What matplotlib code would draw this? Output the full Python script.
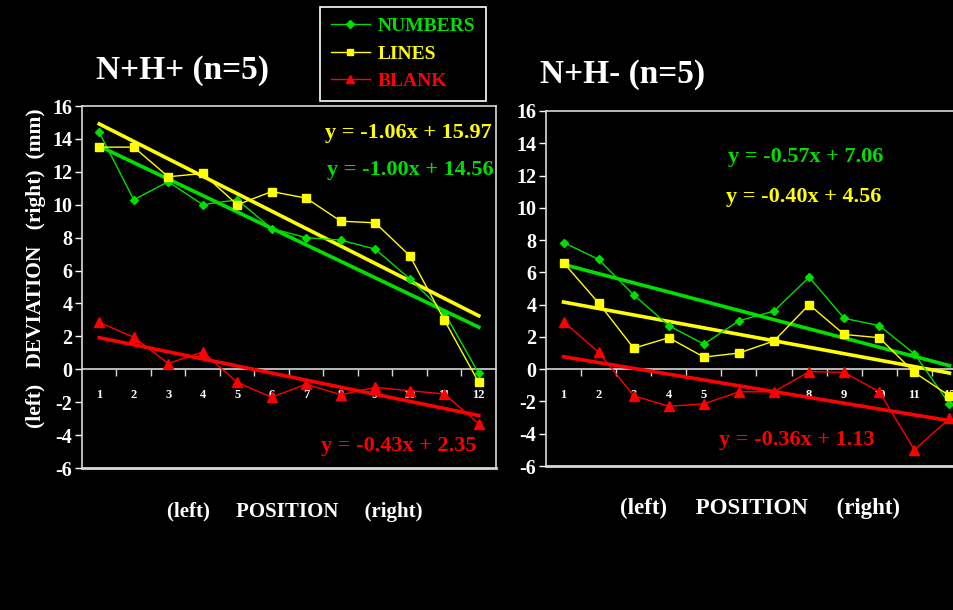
import matplotlib
matplotlib.use("Agg")
import matplotlib.pyplot as plt
import numpy as np

# positions 1..12
positions = np.arange(1, 13)

# N+H+ (n=5)
hp_numbers = [14.4, 10.3, 11.4, 10.0, 10.3, 8.55, 8.0, 7.85, 7.3, 5.5, 3.45, -0.25]
hp_lines = [13.5, 13.5, 11.7, 11.9, 10.0, 10.8, 10.4, 9.0, 8.9, 6.9, 3.0, -0.8]
hp_blank = [2.85, 1.95, 0.35, 1.05, -0.8, -1.7, -0.9, -1.55, -1.1, -1.3, -1.5, -3.3]
hp_fits = {"numbers": (-1.00, 14.56), "lines": (-1.06, 15.97), "blank": (-0.43, 2.35)}

# N+H- (n=5)
hm_numbers = [7.85, 6.8, 4.6, 2.7, 1.55, 3.0, 3.6, 5.7, 3.15, 2.7, 0.95, -2.15]
hm_lines = [6.6, 4.1, 1.3, 1.95, 0.75, 1.0, 1.75, 4.0, 2.15, 1.95, -0.2, -1.65]
hm_blank = [2.95, 1.05, -1.65, -2.3, -2.15, -1.4, -1.4, -0.15, -0.2, -1.4, -5.0, -3.05]
hm_fits = {"numbers": (-0.57, 7.06), "lines": (-0.40, 4.56), "blank": (-0.36, 1.13)}

GREEN = "#00e000"
YELLOW = "#ffff00"
RED = "#ff0000"
FG = "#ffffff"
SPINE = "#d8d8d8"
SERIF = "Liberation Serif"

plt.rcParams["font.family"] = SERIF
plt.rcParams["font.weight"] = "bold"
plt.rcParams["axes.unicode_minus"] = False

fig = plt.figure(figsize=(9.54, 6.10), dpi=100, facecolor="black")


def draw_panel(ax, numbers, lines, blank, fits, xmax):
    ax.set_facecolor("black")
    series = [
        ("NUMBERS", numbers, GREEN, "D", 4.5, "numbers"),
        ("LINES", lines, YELLOW, "s", 5.5, "lines"),
        ("BLANK", blank, RED, "^", 6.5, "blank"),
    ]
    handles = []
    for label, vals, col, mk, ms, key in series:
        h, = ax.plot(positions, vals, color=col, lw=1.0, marker=mk, ms=ms,
                     mec=col, mfc=col, label=label, zorder=4)
        handles.append(h)
        m, b = fits[key]
        ax.plot(positions, m * positions + b, color=col, lw=2.6, zorder=3)

    ax.set_xlim(0.5, xmax)
    ax.set_ylim(-6, 16)
    ax.set_yticks(np.arange(-6, 17, 2))
    ax.tick_params(axis="y", colors=FG, direction="out", length=5, width=1,
                   labelsize=14.5, pad=2)
    for t in ax.get_yticklabels():
        t.set_fontweight("bold")

    # category axis crossing at zero
    ax.spines["bottom"].set_position(("data", 0))
    ax.set_xticks(positions)
    ax.set_xticks(np.arange(1.5, 12.0, 1.0), minor=True)
    ax.tick_params(axis="x", which="major", length=0, colors=FG, labelsize=9,
                   pad=14)
    ax.tick_params(axis="x", which="minor", length=5, width=1, color=SPINE,
                   direction="out")
    for t in ax.get_xticklabels():
        t.set_fontweight("bold")
    for s in ax.spines.values():
        s.set_color(SPINE)
        s.set_linewidth(1.2)
    ax.axhline(-6, color=SPINE, lw=2.0, clip_on=False, zorder=5)
    return handles


# left panel
ax1 = fig.add_axes([82 / 954, 1 - 468 / 610, 414 / 954, 362 / 610])
handles = draw_panel(ax1, hp_numbers, hp_lines, hp_blank, hp_fits, 12.5)
ax1.text(12.37, 14.36, "y = -1.06x + 15.97", color=YELLOW, fontsize=16,
         fontweight="bold", ha="right", va="center")
ax1.text(12.42, 12.1, "y = -1.00x + 14.56", color=GREEN, fontsize=16,
         fontweight="bold", ha="right", va="center")
ax1.text(11.93, -4.67, "y = -0.43x + 2.35", color=RED, fontsize=16,
         fontweight="bold", ha="right", va="center")

# right panel (cut off at the figure's right edge)
ax2 = fig.add_axes([546 / 954, 1 - 466 / 610, 421 / 954, 355 / 610])
draw_panel(ax2, hm_numbers, hm_lines, hm_blank, hm_fits, 12.5)
ax2.spines["right"].set_visible(False)
ax2.text(7.9, 13.15, "y = -0.57x + 7.06", color=GREEN, fontsize=16,
         fontweight="bold", ha="center", va="center")
ax2.text(7.85, 10.67, "y = -0.40x + 4.56", color=YELLOW, fontsize=16,
         fontweight="bold", ha="center", va="center")
ax2.text(7.64, -4.38, "y = -0.36x + 1.13", color=RED, fontsize=16,
         fontweight="bold", ha="center", va="center")

# titles
fig.text(183 / 954, 1 - 70 / 610, "N+H+ (n=5)", color=FG, fontsize=24,
         fontweight="bold", ha="center", va="center")
fig.text(623 / 954, 1 - 74 / 610, "N+H- (n=5)", color=FG, fontsize=24,
         fontweight="bold", ha="center", va="center")

# axis labels
fig.text(36 / 954, 1 - 268 / 610, "(left)   DEVIATION   (right)  (mm)",
         color=FG, fontsize=15.5, fontweight="bold", rotation=90,
         ha="center", va="center")
fig.text(295 / 954, 1 - 512 / 610, "(left)     POSITION     (right)",
         color=FG, fontsize=15, fontweight="bold", ha="center", va="center")
fig.text(760 / 954, 1 - 508 / 610, "(left)     POSITION     (right)",
         color=FG, fontsize=16.5, fontweight="bold", ha="center", va="center")

# legend
leg = fig.legend(handles=handles, loc="upper center",
                 bbox_to_anchor=(403 / 954, 1 - 7 / 610),
                 facecolor="black", edgecolor=FG, framealpha=1,
                 fancybox=False, fontsize=14, handlelength=2.0,
                 handletextpad=0.4, labelspacing=0.5, borderpad=0.55,
                 borderaxespad=0, markerscale=0.85)
leg.get_frame().set_linewidth(1.2)
for txt, h in zip(leg.get_texts(), handles):
    txt.set_color(h.get_color())
    txt.set_fontweight("bold")

fig.savefig("out.png", dpi=100, facecolor="black")
